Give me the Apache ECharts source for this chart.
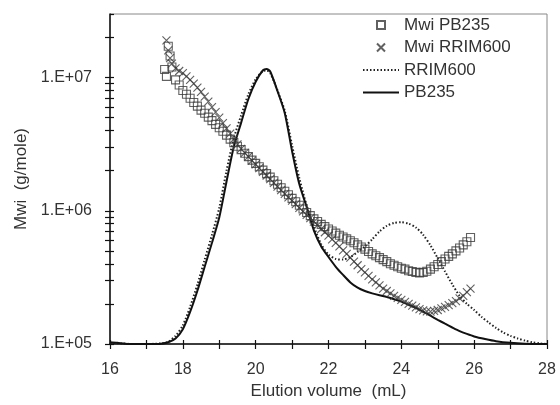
<!DOCTYPE html>
<html>
<head>
<meta charset="utf-8">
<script src="https://cdn.jsdelivr.net/npm/echarts@6/dist/echarts.min.js"></script>
<style>
html, body { margin: 0; padding: 0; background: #fff; }
#chart { width: 560px; height: 405px; }
</style>
</head>
<body>
<div id="chart"></div>
<script>
"use strict";
// elution volume (mL) / values
var pbVol = [16.0,16.2,16.5,17.0,17.4,17.6,17.8,18.0,18.2,18.4,18.6,18.8,19.0,19.2,19.4,19.6,19.8,20.0,20.2,20.3,
    20.4,20.6,20.8,21.0,21.2,21.4,21.6,21.8,22.0,22.2,22.4,22.6,22.8,23.0,23.2,23.4,23.6,23.8,24.0,24.2,24.4,24.6,24.8,
    25.0,25.2,25.4,25.6,25.8,26.0,26.3,26.6,27.0,27.4,27.8,28.0];
var pbVal = [1.03e5,1.02e5,1.0e5,1.0e5,1.005e5,1.03e5,1.1e5,1.29e5,1.74e5,2.51e5,3.8e5,5.75e5,8.9e5,1.66e6,3.02e6,4.57e6,6.9e6,9.3e6,1.135e7,1.16e7,
    1.11e7,7.9e6,5.4e6,2.8e6,1.58e6,1.07e6,7.1e5,5.4e5,4.5e5,3.8e5,3.3e5,2.9e5,2.65e5,2.5e5,2.4e5,2.32e5,2.25e5,2.17e5,2.08e5,1.97e5,1.87e5,1.75e5,1.63e5,
    1.52e5,1.42e5,1.33e5,1.25e5,1.19e5,1.14e5,1.09e5,1.05e5,1.02e5,1.005e5,1.0e5,1.0e5];

var rrVol = [16.0,16.3,16.6,17.0,17.4,17.6,17.8,18.0,18.2,18.4,18.6,18.8,19.0,19.2,19.4,19.6,19.8,20.0,20.2,20.3,
    20.4,20.6,20.8,21.0,21.2,21.4,21.6,21.8,22.0,22.2,22.4,22.6,22.8,23.0,23.2,23.4,23.6,23.8,24.0,24.2,24.4,24.6,24.8,
    25.0,25.2,25.4,25.6,25.8,26.0,26.2,26.4,26.6,26.8,27.0,27.2,27.4,27.6,27.8,28.0];
var rrVal = [1.02e5,1.01e5,1.0e5,1.0e5,1.01e5,1.04e5,1.15e5,1.38e5,1.9e5,2.8e5,4.3e5,6.6e5,1.05e6,2.0e6,3.5e6,5.2e6,7.5e6,9.7e6,1.12e7,1.13e7,
    1.08e7,8.0e6,5.6e6,3.1e6,1.75e6,1.1e6,7.6e5,5.6e5,4.7e5,4.35e5,4.3e5,4.5e5,4.9e5,5.4e5,6.1e5,7.0e5,7.7e5,8.1e5,8.2e5,8.0e5,7.5e5,6.6e5,5.5e5,
    4.4e5,3.5e5,2.8e5,2.3e5,2.0e5,1.8e5,1.6e5,1.45e5,1.32e5,1.22e5,1.15e5,1.1e5,1.06e5,1.03e5,1.01e5,1.0e5];

var mwiPbVol = [17.5,17.55,17.6,17.65,17.7,17.8,17.9,18.0,18.1,18.2,18.3,18.4,18.5,18.6,18.7,18.8,18.9,19.0,19.1,19.2,19.3,19.4,19.5,19.6,
    19.7,19.8,19.9,20.0,20.1,20.2,20.3,20.4,20.5,20.6,20.7,20.8,20.9,21.0,21.1,21.2,21.3,21.4,21.5,21.6,21.7,21.8,21.9,22.0,22.1,22.2,
    22.3,22.4,22.5,22.6,22.7,22.8,22.9,23.0,23.1,23.2,23.3,23.4,23.5,23.6,23.7,23.8,23.9,24.0,24.1,24.2,24.3,24.4,24.5,24.6,24.7,24.8,
    24.9,25.0,25.1,25.2,25.3,25.4,25.5,25.6,25.7,25.8,25.9];
var mwiPbVal = [1.15e7,1.02e7,1.72e7,1.45e7,1.2e7,9.6e6,8.8e6,8.0e6,7.5e6,7.0e6,6.5e6,6.1e6,5.7e6,5.4e6,5.05e6,4.75e6,4.45e6,4.2e6,3.95e6,3.7e6,3.45e6,3.25e6,3.05e6,2.88e6,
    2.7e6,2.55e6,2.4e6,2.27e6,2.14e6,2.02e6,1.9e6,1.79e6,1.68e6,1.58e6,1.49e6,1.4e6,1.32e6,1.24e6,1.17e6,1.1e6,1.03e6,9.7e5,9.2e5,8.7e5,8.3e5,7.9e5,7.6e5,7.3e5,7.05e5,6.8e5,
    6.55e5,6.35e5,6.15e5,5.95e5,5.75e5,5.55e5,5.35e5,5.15e5,4.95e5,4.75e5,4.6e5,4.45e5,4.3e5,4.15e5,4.0e5,3.9e5,3.8e5,3.7e5,3.65e5,3.55e5,3.5e5,3.45e5,3.42e5,3.45e5,3.52e5,3.65e5,
    3.8e5,3.95e5,4.15e5,4.35e5,4.55e5,4.75e5,5.0e5,5.25e5,5.55e5,5.85e5,6.3e5];

var mwiRrVol = [17.55,17.6,17.65,17.7,17.8,17.9,18.0,18.1,18.2,18.3,18.4,18.5,18.6,18.7,18.8,18.9,19.0,19.1,19.2,19.3,19.4,19.5,19.6,
    19.7,19.8,19.9,20.0,20.1,20.2,20.3,20.4,20.5,20.6,20.7,20.8,20.9,21.0,21.1,21.2,21.3,21.4,21.5,21.6,21.7,21.8,21.9,22.0,22.1,22.2,
    22.3,22.4,22.5,22.6,22.7,22.8,22.9,23.0,23.1,23.2,23.3,23.4,23.5,23.6,23.7,23.8,23.9,24.0,24.1,24.2,24.3,24.4,24.5,24.6,24.7,24.8,
    24.9,25.0,25.1,25.2,25.3,25.4,25.5,25.6,25.7,25.8,25.9];
var mwiRrVal = [1.9e7,1.6e7,1.4e7,1.27e7,1.17e7,1.12e7,1.08e7,1.02e7,9.6e6,9.0e6,8.4e6,7.8e6,7.2e6,6.6e6,6.0e6,5.5e6,5.0e6,4.55e6,4.15e6,3.8e6,3.45e6,3.15e6,2.92e6,
    2.72e6,2.55e6,2.38e6,2.23e6,2.09e6,1.96e6,1.84e6,1.73e6,1.62e6,1.52e6,1.43e6,1.34e6,1.26e6,1.19e6,1.12e6,1.05e6,9.9e5,9.3e5,8.8e5,8.3e5,7.8e5,7.3e5,6.9e5,6.5e5,6.1e5,5.75e5,
    5.4e5,5.05e5,4.75e5,4.45e5,4.15e5,3.9e5,3.65e5,3.45e5,3.25e5,3.05e5,2.9e5,2.75e5,2.6e5,2.5e5,2.4e5,2.3e5,2.22e5,2.14e5,2.07e5,2.0e5,1.94e5,1.88e5,1.83e5,1.79e5,1.76e5,1.75e5,
    1.77e5,1.8e5,1.85e5,1.9e5,1.96e5,2.03e5,2.1e5,2.2e5,2.3e5,2.45e5,2.6e5];

// tick marks (log minor ticks on y, every 1 mL on x)
var yTickVals = [1e5,2e5,3e5,4e5,5e5,6e5,7e5,8e5,9e5,1e6,2e6,3e6,4e6,5e6,6e6,7e6,8e6,9e6,1e7,2e7,3e7];
var xTickVals = [16,17,18,19,20,21,22,23,24,25,26,27,28];

var FONT = "'Liberation Sans', Arial, sans-serif";
var INK = "#333";
var SQUARE = "path://M0,0L10,0L10,10L0,10Z";
var CROSS = "path://M0,0L10,10M0,10L10,0";

function pairs(xs, ys) {
    return xs.map(function (x, i) { return [x, ys[i]]; });
}

function yLabel(v) {
    var e = Math.round(Math.log(v) / Math.LN10);
    return "1.E+" + (e < 10 ? "0" + e : e);
}

// second axis of each pair only carries the inner half of the cross ticks
var xAxes = [{
    type: "value", min: 16, max: 28, interval: 2,
    name: "Elution volume  (mL)", nameLocation: "middle", nameGap: 37,
    nameTextStyle: { fontFamily: FONT, fontSize: 17, color: INK },
    axisLine: { lineStyle: { color: "#111", width: 1.5 } },
    axisTick: { show: true, customValues: xTickVals, length: 5, inside: false, lineStyle: { color: "#111", width: 1.2 } },
    splitLine: { show: false },
    axisLabel: { fontFamily: FONT, fontSize: 16, color: INK, margin: 18 }
}, {
    type: "value", min: 16, max: 28, interval: 2, position: "bottom", offset: 0,
    axisLine: { show: false },
    axisTick: { show: true, customValues: xTickVals, length: 4, inside: true, lineStyle: { color: "#111", width: 1.2 } },
    splitLine: { show: false },
    axisLabel: { show: false }
}];

var yAxes = [{
    type: "log", logBase: 10, min: 1e5, max: 3e7,
    name: "Mwi  (g/mole)", nameLocation: "middle", nameGap: 67,
    nameTextStyle: { fontFamily: FONT, fontSize: 17, color: INK },
    axisLine: { show: true, lineStyle: { color: "#111", width: 1.5 } },
    axisTick: { show: true, customValues: yTickVals, length: 5, inside: false, lineStyle: { color: "#111", width: 1.2 } },
    splitLine: { show: false },
    axisLabel: { fontFamily: FONT, fontSize: 16, color: INK, margin: 18, showMaxLabel: false, formatter: yLabel }
}, {
    type: "log", logBase: 10, min: 1e5, max: 3e7, position: "left", offset: 0,
    axisLine: { show: false },
    axisTick: { show: true, customValues: yTickVals, length: 4, inside: true, lineStyle: { color: "#111", width: 1.2 } },
    splitLine: { show: false },
    axisLabel: { show: false }
}];

var chart = echarts.init(document.getElementById("chart"));
var option = {
    backgroundColor: "#fff",
    animation: false,
    grid: {
        left: 110, right: 13, top: 14, bottom: 61,
        show: true, borderColor: "#888", borderWidth: 1,
        containLabel: false, outerBoundsMode: "none"
    },
    legend: {
        orient: "vertical",
        left: 362, top: 16.5, padding: 0,
        itemWidth: 36, itemHeight: 8, itemGap: 5.5,
        textStyle: { fontFamily: FONT, fontSize: 17, color: INK },
        data: [
            { name: "Mwi PB235" },
            { name: "Mwi RRIM600" },
            { name: "RRIM600", itemStyle: { opacity: 0 } },
            { name: "PB235", itemStyle: { opacity: 0 } }
        ]
    },
    xAxis: xAxes,
    yAxis: yAxes,
    series: [{
        name: "Mwi PB235",
        type: "scatter",
        symbol: SQUARE, symbolSize: 8,
        itemStyle: { color: "transparent", borderColor: "#3a3a3a", borderWidth: 1.1 },
        data: pairs(mwiPbVol, mwiPbVal),
        z: 3
    }, {
        name: "Mwi RRIM600",
        type: "scatter",
        symbol: CROSS, symbolSize: 8,
        itemStyle: { color: "transparent", borderColor: "#3a3a3a", borderWidth: 1.1 },
        data: pairs(mwiRrVol, mwiRrVal),
        z: 3
    }, {
        name: "RRIM600",
        type: "line",
        symbol: "none", smooth: 0.25,
        itemStyle: { color: "#222" },
        lineStyle: { color: "#222", width: 2, type: [1.5, 2] },
        data: pairs(rrVol, rrVal),
        z: 2
    }, {
        name: "PB235",
        type: "line",
        symbol: "none", smooth: 0.25,
        itemStyle: { color: "#111" },
        lineStyle: { color: "#111", width: 2 },
        data: pairs(pbVol, pbVal),
        z: 2
    }]
};
chart.setOption(option);
</script>
</body>
</html>
